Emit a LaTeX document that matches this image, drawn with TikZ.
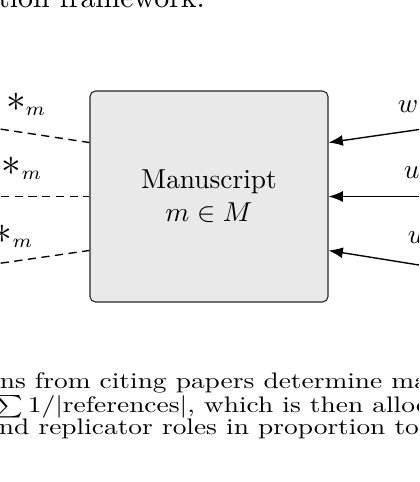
\documentclass[tikz,border=0pt]{standalone}
\usetikzlibrary{arrows.meta}
\definecolor{boxfill}{HTML}{E9E9E9}
\newcommand{\squish}[1]{\scalebox{1}[0.82]{#1}}
\newcommand{\bigstar}{\mbox{\Large$\ast$}}
\begin{document}
\begin{tikzpicture}[x=0.365pt,y=-0.365pt,
  txt/.style={inner sep=0pt,outer sep=0pt},
  msbox/.style={draw=black!85,fill=boxfill,rounded corners=2pt,line width=0.4pt,
    minimum width=86.9pt,minimum height=77pt,align=center,inner sep=0pt},
  dashline/.style={line width=0.5pt,dash pattern=on 3pt off 2pt},
  arr/.style={line width=0.5pt,-{Latex[length=5.2pt,width=4pt]}},
]
\useasboundingbox (0,0) rectangle (419,482);
\clip (0,0) rectangle (419,482);

% top text (cut)
\node[txt,anchor=base east] (toptext) at (205,7.5) {\fontsize{10.9pt}{13pt}\selectfont tion framework.};

% manuscript box
\node[msbox] (ms) at (209,196.5) {Manuscript\\$m\in M$};

% left dashed connectors
\coordinate (l1) at (-40,123);
\coordinate (l2) at (-40,196.5);
\coordinate (l3) at (-40,269);
\draw[dashline] (l1) -- ([yshift=19.7pt]ms.west);
\draw[dashline] (l2) -- (ms.west);
\draw[dashline] (l3) -- ([yshift=-19.7pt]ms.west);
\node[txt,anchor=base west] (s1) at (6,111) {$\bigstar_m$};
\node[txt,anchor=base west] (s2) at (2,175) {$\bigstar_m$};
\node[txt,anchor=base west] (s3) at (-7,243) {$\bigstar_m$};

% right arrows
\coordinate (r1) at (460,123.6);
\coordinate (r2) at (460,196.5);
\coordinate (r3) at (460,271.6);
\draw[arr] (r1) -- ([yshift=19.7pt]ms.east);
\draw[arr] (r2) -- (ms.east);
\draw[arr] (r3) -- ([yshift=-19.7pt]ms.east);
\node[txt,anchor=base west] (w1) at (398,112) {$w$};
\node[txt,anchor=base west] (u2) at (404,178) {$u$};
\node[txt,anchor=base west] (u3) at (408,243) {$u$};

% caption (cut)
\node[txt,anchor=base east] (c1) at (428,388.5) {\squish{ns from citing papers determine ma}};
\node[txt,anchor=base west] (c2) at (-5.5,412.5) {\squish{$\sum 1/|\mathrm{references}|$, which is then alloc}};
\node[txt,anchor=base west] (c3) at (-1,434.5) {\squish{nd replicator roles in proportion to}};
\end{tikzpicture}
\end{document}
